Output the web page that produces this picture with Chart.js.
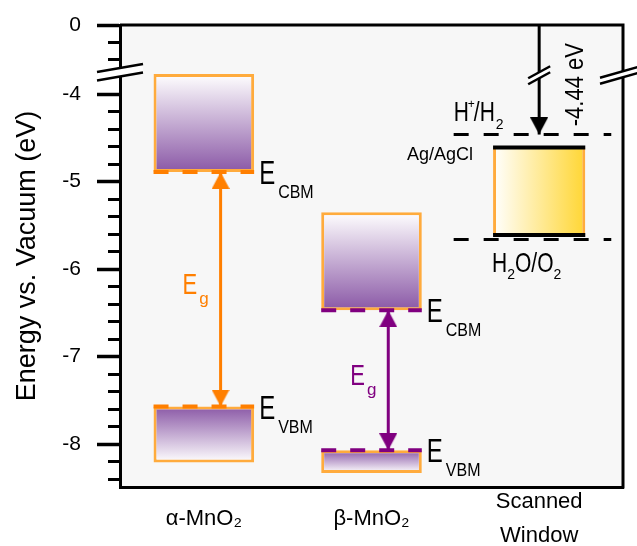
<!DOCTYPE html>
<html>
<head>
<meta charset="utf-8">
<script src="https://cdn.jsdelivr.net/npm/chart.js@4.4.0/dist/chart.umd.min.js"></script>
<style>
  html, body { margin: 0; padding: 0; background: #fff; }
  #wrap { width: 637px; height: 546px; }
</style>
</head>
<body>
<div id="wrap"><canvas id="band-chart" width="637" height="546"></canvas></div>
<script>
// Band positions, eV vs. vacuum
const materials = ['α-MnO₂', 'β-MnO₂'];
const cbTop = [-3.77, -5.35];
const cbm = [-4.89, -6.47];
const vbm = [-7.57, -8.07];
const vbBottom = [-8.21, -8.33];
const windowLevels = [-4.61, -5.61];   // scanned window (Ag/AgCl) top, bottom
const redoxLevels = [-4.46, -5.66];    // H+/H2, H2O/O2
const vacuumLevel = 0;
const categories = [...materials, ['Scanned', 'Window']];
const majorTicks = [0, -4, -5, -6, -7, -8];
const minorTicks = [-0.2, -0.4, -3.8, -4.2, -4.4, -4.6, -4.8, -5.2, -5.4, -5.6, -5.8,
  -6.2, -6.4, -6.6, -6.8, -7.2, -7.4, -7.6, -7.8, -8.2, -8.4];

// Styles
const FONT = '"Liberation Sans", Arial, sans-serif';
const PURPLE = '#8a58a6';
const BOX_EDGE = '#ffab3d';
const matColor = ['#ff7f00', '#800080'];
const BOX_W = 0.6;      // band box width (category units)
const WIN_W = 0.55;
const ARROW_DX = 0.1;
const LEVEL_X = [-0.51, 0.43];

// broken axis: vacuum level is drawn just above -4 eV
const SHIFT = -3.21;
const Y_MIN = -8.49;
const toAxis = e => (e > -2 ? e + SHIFT : e);
const near = (a, b) => Math.abs(a - b) < 1e-6;
const isMajor = v => majorTicks.some(e => near(toAxis(e), v));

function arrowHead(color) {
  const c = document.createElement('canvas');
  c.width = 18; c.height = 34;
  const g = c.getContext('2d');
  g.fillStyle = color;
  g.beginPath(); g.moveTo(9, 17); g.lineTo(18, 34); g.lineTo(0, 34); g.closePath(); g.fill();
  return c;
}

function bandFill(edgeAtTop) {
  return ctx => {
    const { chart, raw } = ctx;
    if (!chart.chartArea || !Array.isArray(raw)) return PURPLE;
    const y = chart.scales.y;
    const top = y.getPixelForValue(Math.max(raw[0], raw[1]));
    const bottom = y.getPixelForValue(Math.min(raw[0], raw[1]));
    const g = chart.ctx.createLinearGradient(0, top, 0, bottom);
    g.addColorStop(0, edgeAtTop ? PURPLE : '#ffffff');
    g.addColorStop(1, edgeAtTop ? '#ffffff' : PURPLE);
    return g;
  };
}

function windowFill(ctx) {
  const { chart } = ctx;
  if (!chart.chartArea) return '#ffd633';
  const x = chart.scales.x2;
  const g = chart.ctx.createLinearGradient(x.getPixelForValue(2.5 - WIN_W / 2), 0, x.getPixelForValue(2.5 + WIN_W / 2), 0);
  g.addColorStop(0, '#ffffff');
  g.addColorStop(1, '#ffd633');
  return g;
}

const hline = (y, x0, x1, color, width, dash) => ({
  type: 'line', xAxisID: 'x2', order: 1,
  data: [{ x: x0, y: toAxis(y) }, { x: x1, y: toAxis(y) }],
  borderColor: color, borderWidth: width, borderDash: dash || [], pointRadius: 0
});

const arrow = (x, y0, y1, color, heads) => ({
  type: 'line', xAxisID: 'x2', order: 0,
  data: [{ x: x, y: toAxis(y0) }, { x: x, y: toAxis(y1) }],
  borderColor: color, borderWidth: 3,
  pointStyle: arrowHead(color), pointRotation: [0, 180], pointRadius: heads
});

const datasets = [
  {
    type: 'bar', order: 10, data: [...materials.map((m, i) => [cbm[i], cbTop[i]]), null],
    backgroundColor: bandFill(false), borderColor: BOX_EDGE, borderWidth: 3, borderSkipped: false,
    grouped: false, barPercentage: BOX_W, categoryPercentage: 1
  },
  {
    type: 'bar', order: 10, data: [...materials.map((m, i) => [vbBottom[i], vbm[i]]), null],
    backgroundColor: bandFill(true), borderColor: BOX_EDGE, borderWidth: 3, borderSkipped: false,
    grouped: false, barPercentage: BOX_W, categoryPercentage: 1
  },
  {
    type: 'bar', order: 10, data: [null, null, [windowLevels[1], windowLevels[0]]],
    backgroundColor: windowFill, borderColor: BOX_EDGE, borderSkipped: false,
    borderWidth: { left: 3, right: 3, top: 0, bottom: 0 },
    grouped: false, barPercentage: WIN_W, categoryPercentage: 1
  }
];

materials.forEach((m, i) => {
  const l = i + 0.5 - BOX_W / 2, r = i + 0.5 + BOX_W / 2;
  datasets.push(hline(cbm[i], l, r, matColor[i], 4, [15, 14]));
  datasets.push(hline(vbm[i], l, r, matColor[i], 4, [15, 14]));
  datasets.push(arrow(i + 0.5 + ARROW_DX, cbm[i], vbm[i], matColor[i], [6, 6]));
});
windowLevels.forEach(v => datasets.push(hline(v, 2.5 - WIN_W / 2, 2.5 + WIN_W / 2, '#000', 4)));
redoxLevels.forEach(v => datasets.push(hline(v, 2.5 + LEVEL_X[0], 2.5 + LEVEL_X[1], '#000', 3, [15, 15])));
datasets.push(arrow(2.5, vacuumLevel, redoxLevels[0], '#000', [0, 6]));

function text(ctx, s, x, y, size, color, opt = {}) {
  const { sy = 1, align = 'left', rot = 0 } = opt;
  ctx.save();
  ctx.translate(x, y);
  if (rot) ctx.rotate(rot);
  ctx.scale(1, sy);
  ctx.font = size + 'px ' + FONT;
  ctx.fillStyle = color;
  ctx.textAlign = align;
  ctx.textBaseline = 'alphabetic';
  ctx.fillText(s, 0, 0);
  const w = ctx.measureText(s).width;
  ctx.restore();
  return w;
}

function drawBreak(ctx, cx, cy, hw, rise, gap) {
  const x0 = cx - hw, x1 = cx + hw, y0 = cy + rise / 2, y1 = cy - rise / 2;
  ctx.fillStyle = '#fff';
  ctx.beginPath();
  ctx.moveTo(x0, y0 - gap / 2); ctx.lineTo(x1, y1 - gap / 2);
  ctx.lineTo(x1, y1 + gap / 2); ctx.lineTo(x0, y0 + gap / 2);
  ctx.closePath(); ctx.fill();
  ctx.strokeStyle = '#000'; ctx.lineWidth = 2.5;
  [-1, 1].forEach(s => {
    ctx.beginPath(); ctx.moveTo(x0, y0 + s * gap / 2); ctx.lineTo(x1, y1 + s * gap / 2); ctx.stroke();
  });
}

const decorations = {
  id: 'decorations',
  beforeDraw(chart) {
    const { ctx, chartArea: a } = chart;
    ctx.save();
    ctx.fillStyle = '#f7f7f7';
    ctx.fillRect(a.left, a.top, a.right - a.left, a.bottom - a.top);
    ctx.restore();
  },
  afterDraw(chart) {
    const { ctx, chartArea: a } = chart;
    const X = chart.scales.x2, Y = chart.scales.y;
    const px = v => X.getPixelForValue(v);
    const py = e => Y.getPixelForValue(toAxis(e));
    ctx.save();
    // frame top + right
    ctx.strokeStyle = '#000'; ctx.lineWidth = 3;
    ctx.beginPath(); ctx.moveTo(a.left, a.top); ctx.lineTo(a.right, a.top); ctx.lineTo(a.right, a.bottom + 1.5); ctx.stroke();
    // axis breaks
    const by = Y.getPixelForValue(-3.75);
    drawBreak(ctx, a.left, by, 23, 8, 8.5);
    drawBreak(ctx, a.right, by + 2, 23, 13, 6);
    drawBreak(ctx, px(2.5), by + 3, 11, 12, 6);

    // band labels
    materials.forEach((m, i) => {
      const xr = px(i + 0.5 + BOX_W / 2) + 5;
      [['CBM', cbm[i]], ['VBM', vbm[i]]].forEach(([sub, e]) => {
        const w = text(ctx, 'E', xr, py(e) + 12, 24, '#000', { sy: 1.35 });
        text(ctx, sub, xr + w + 3, py(e) + 26, 16, '#000', { sy: 1.15 });
      });
      const ax = px(i + 0.5 + ARROW_DX);
      const mid = (py(cbm[i]) + py(vbm[i])) / 2;
      const w = text(ctx, 'E', ax - 38, mid + 5, 22, matColor[i], { sy: 1.3 });
      text(ctx, 'g', ax - 38 + w + 2, mid + 15, 17, matColor[i]);
    });

    // redox labels
    let x = px(2.5 + LEVEL_X[0]);
    let b = py(redoxLevels[0]) - 13;
    x += text(ctx, 'H', x, b, 21, '#000', { sy: 1.35 });
    x += text(ctx, '+', x - 1, b - 13, 12, '#000') - 2;
    x += text(ctx, '/H', x, b, 21, '#000', { sy: 1.35 });
    text(ctx, '2', x + 1, b + 8, 14, '#000');

    x = px(2.5 - WIN_W / 2) - 1;
    b = py(redoxLevels[1]) + 33;
    x += text(ctx, 'H', x, b, 21, '#000', { sy: 1.3 });
    x += text(ctx, '2', x, b + 7, 14, '#000');
    x += text(ctx, 'O/O', x, b, 21, '#000', { sy: 1.3 });
    text(ctx, '2', x, b + 7, 14, '#000');

    text(ctx, 'Ag/AgCl', px(2.5 - WIN_W / 2) - 20, py(windowLevels[0]) + 12, 18, '#000', { align: 'right' });

    const midY = (py(vacuumLevel) + py(redoxLevels[0])) / 2;
    text(ctx, '-4.44 eV', px(2.5) + 44, midY + 5, 22, '#000', { align: 'center', rot: -Math.PI / 2, sy: 1.15 });
    ctx.restore();
  }
};

new Chart(document.getElementById('band-chart'), {
  type: 'bar',
  data: { labels: categories, datasets: datasets },
  options: {
    responsive: false,
    animation: false,
    devicePixelRatio: 1,
    events: [],
    layout: { padding: { top: 25, right: 14, left: 0, bottom: 0 } },
    plugins: { legend: { display: false }, tooltip: { enabled: false } },
    scales: {
      x: {
        afterFit: s => { s.height = 59; s.paddingLeft = 0; s.paddingRight = 0; },
        grid: { drawOnChartArea: false, drawTicks: false },
        border: { color: '#000', width: 3 },
        ticks: {
          color: '#000', padding: 15, autoSkip: false, maxRotation: 0, crossAlign: 'center',
          font: { size: 22, family: FONT, lineHeight: 1.55 }
        }
      },
      x2: { type: 'linear', display: false, offset: false, min: 0, max: 3 },
      y: {
        min: Y_MIN,
        max: toAxis(vacuumLevel),
        afterBuildTicks: s => {
          s.ticks = [...majorTicks, ...minorTicks].map(e => ({ value: toAxis(e) })).sort((p, q) => p.value - q.value);
        },
        afterFit: s => { s.width = 120; s.paddingTop = 0; s.paddingBottom = 0; },
        ticks: {
          autoSkip: false, padding: 16, color: '#000',
          font: { size: 21, family: FONT },
          callback: v => {
            const e = majorTicks.find(m => near(toAxis(m), v));
            return e === undefined ? '' : String(e);
          }
        },
        grid: {
          drawOnChartArea: false, tickLength: 23, tickColor: '#000',
          tickWidth: c => (isMajor(c.tick.value) ? 3.5 : 3),
          tickBorderDash: c => (isMajor(c.tick.value) ? [] : [0, 11, 30, 0])
        },
        border: { color: '#000', width: 3 },
        title: {
          display: true, text: 'Energy vs. Vacuum (eV)', color: '#000',
          font: { size: 27, family: FONT }, padding: { top: 11, bottom: 0 }
        }
      }
    }
  },
  plugins: [decorations]
});
</script>
</body>
</html>
